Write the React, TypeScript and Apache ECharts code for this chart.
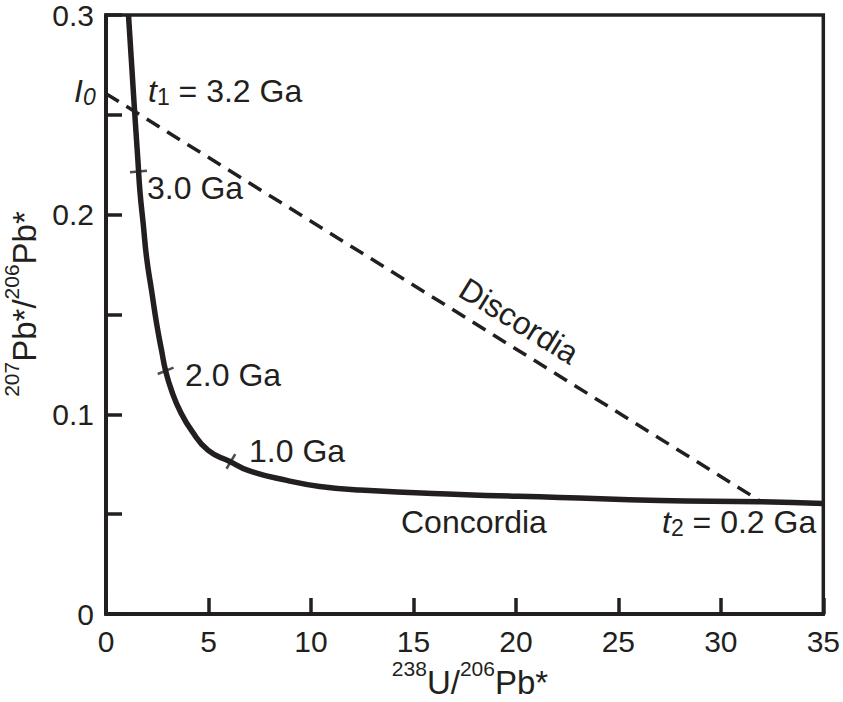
import React, { useEffect, useRef } from "react";
import * as echarts from "echarts";

// Concordia curve
const concordiaX = [1.097, 1.243, 1.365, 1.56, 1.657, 1.818, 1.984, 2.228, 2.472, 2.715, 2.91, 3.203, 3.607, 4.178, 4.987, 6.045, 6.937, 8.823, 10.43, 12.38, 17.26, 22.13, 27.01, 31.88, 35.0];
const concordiaY = [0.3, 0.2765, 0.2566, 0.2266, 0.2116, 0.1952, 0.1782, 0.1617, 0.1453, 0.1318, 0.1218, 0.1118, 0.1018, 0.0918, 0.0819, 0.0764, 0.0719, 0.0669, 0.0639, 0.0621, 0.0599, 0.0584, 0.0569, 0.0562, 0.0554];
// Discordia line from I0 to t2
const discordiaX = [0, 31.9];
const discordiaY = [0.2606, 0.0567];
// Age marks on the concordia
const ageLabels = ["3.0 Ga", "2.0 Ga", "1.0 Ga"];
const ageX = [1.584, 2.91, 6.093];
const ageY = [0.2216, 0.1218, 0.0764];
const ageTickAngle = [5, 22, 59];
// Axis
const xMin = 0, xMax = 35, xStep = 5;
const yMin = 0, yMax = 0.3, yStep = 0.05;
const yTickLabels = ["0", "0.1", "0.2", "0.3"];

const ink = "#231f20";
const font = "'Liberation Sans', Arial, Helvetica, sans-serif";

export default function App() {
  const ref = useRef<HTMLDivElement>(null);
  useEffect(() => {
    if (!ref.current) return;
    const chart = echarts.init(ref.current, null, { renderer: "svg" });
    const rich = {
      n: { fontSize: 32, fontFamily: font, fill: ink },
      it: { fontSize: 32, fontFamily: font, fill: ink, fontStyle: "italic" },
      sub: { fontSize: 23, fontFamily: font, fill: ink, padding: [12, 0, 0, 0] },
      subit: { fontSize: 23, fontFamily: font, fill: ink, fontStyle: "italic", padding: [12, 0, 0, 0] },
      ax: { fontSize: 33, fontFamily: font, fill: ink },
      sup: { fontSize: 21, fontFamily: font, fill: ink, padding: [0, 0, 28, 0] },
      supy: { fontSize: 21, fontFamily: font, fill: ink, padding: [0, 0, 25, 0] },
    };
    const txt = (x: number, y: number, text: string, extra: any = {}) => ({
      type: "text",
      x,
      y,
      z: 100,
      ...extra,
      style: {
        text,
        rich,
        fill: ink,
        fontSize: 32,
        fontFamily: font,
        align: "left",
        verticalAlign: "middle",
        ...(extra.style || {}),
      },
    });
    const ageTextPos = [
      [147, 188],
      [185, 375],
      [249, 451],
    ];
    chart.setOption({
      animation: false,
      backgroundColor: "#ffffff",
      grid: {
        left: 106,
        right: 19,
        top: 13,
        bottom: 88,
        show: true,
        borderColor: ink,
        borderWidth: 3.5,
      },
      xAxis: {
        type: "value",
        min: xMin,
        max: xMax,
        interval: xStep,
        axisLine: { show: true, lineStyle: { color: ink, width: 4 } },
        axisTick: { show: true, inside: true, length: 16, lineStyle: { color: ink, width: 3.5 } },
        axisLabel: { color: ink, fontSize: 30, fontFamily: font, margin: 12 },
        splitLine: { show: false },
      },
      yAxis: {
        type: "value",
        min: yMin,
        max: yMax,
        interval: yStep,
        axisLine: { show: true, lineStyle: { color: ink, width: 4 } },
        axisTick: { show: true, inside: true, length: 16, lineStyle: { color: ink, width: 3.5 } },
        axisLabel: {
          color: ink,
          fontSize: 30,
          fontFamily: font,
          margin: 12,
          formatter: (v: number) => {
            const k = Math.round(v * 100);
            return k % 10 === 0 ? yTickLabels[k / 10] : "";
          },
        },
        splitLine: { show: false },
      },
      series: [
        {
          type: "line",
          data: discordiaX.map((x, i) => [x, discordiaY[i]]),
          showSymbol: false,
          lineStyle: { color: ink, width: 3.5, type: [15, 9] },
          z: 2,
        },
        {
          type: "line",
          data: concordiaX.map((x, i) => [x, concordiaY[i]]),
          showSymbol: false,
          smooth: 0.5,
          lineStyle: { color: ink, width: 5.5, cap: "butt" },
          z: 3,
        },
        {
          type: "scatter",
          data: ageX.map((x, i) => ({ value: [x, ageY[i]], symbolRotate: ageTickAngle[i] })),
          symbol: "rect",
          symbolSize: [17, 2.5],
          itemStyle: { color: ink },
          z: 4,
        },
      ],
      graphic: [
        txt(74, 91, "{it|I}{subit|0}"),
        txt(148, 91, "{it|t}{sub|1}{n| = 3.2 Ga}"),
        ...ageLabels.map((s, i) => txt(ageTextPos[i][0], ageTextPos[i][1], "{n|" + s + "}")),
        txt(401, 522, "{n|Concordia}"),
        txt(662, 522, "{it|t}{sub|2}{n| = 0.2 Ga}"),
        txt(519, 321, "{n|Discordia}", {
          rotation: (-31.7 * Math.PI) / 180,
          style: { align: "center" },
        }),
        txt(470, 682, "{sup|238}{ax|U/}{sup|206}{ax|Pb*}", { style: { align: "center" } }),
        txt(24, 304, "{supy|207}{ax|Pb*/}{supy|206}{ax|Pb*}", {
          rotation: Math.PI / 2,
          style: { align: "center" },
        }),
      ],
    });
    return () => chart.dispose();
  }, []);
  return (
    <div
      ref={ref}
      style={{ position: "fixed", left: 0, top: 0, width: 843, height: 702, background: "#fff" }}
    />
  );
}
